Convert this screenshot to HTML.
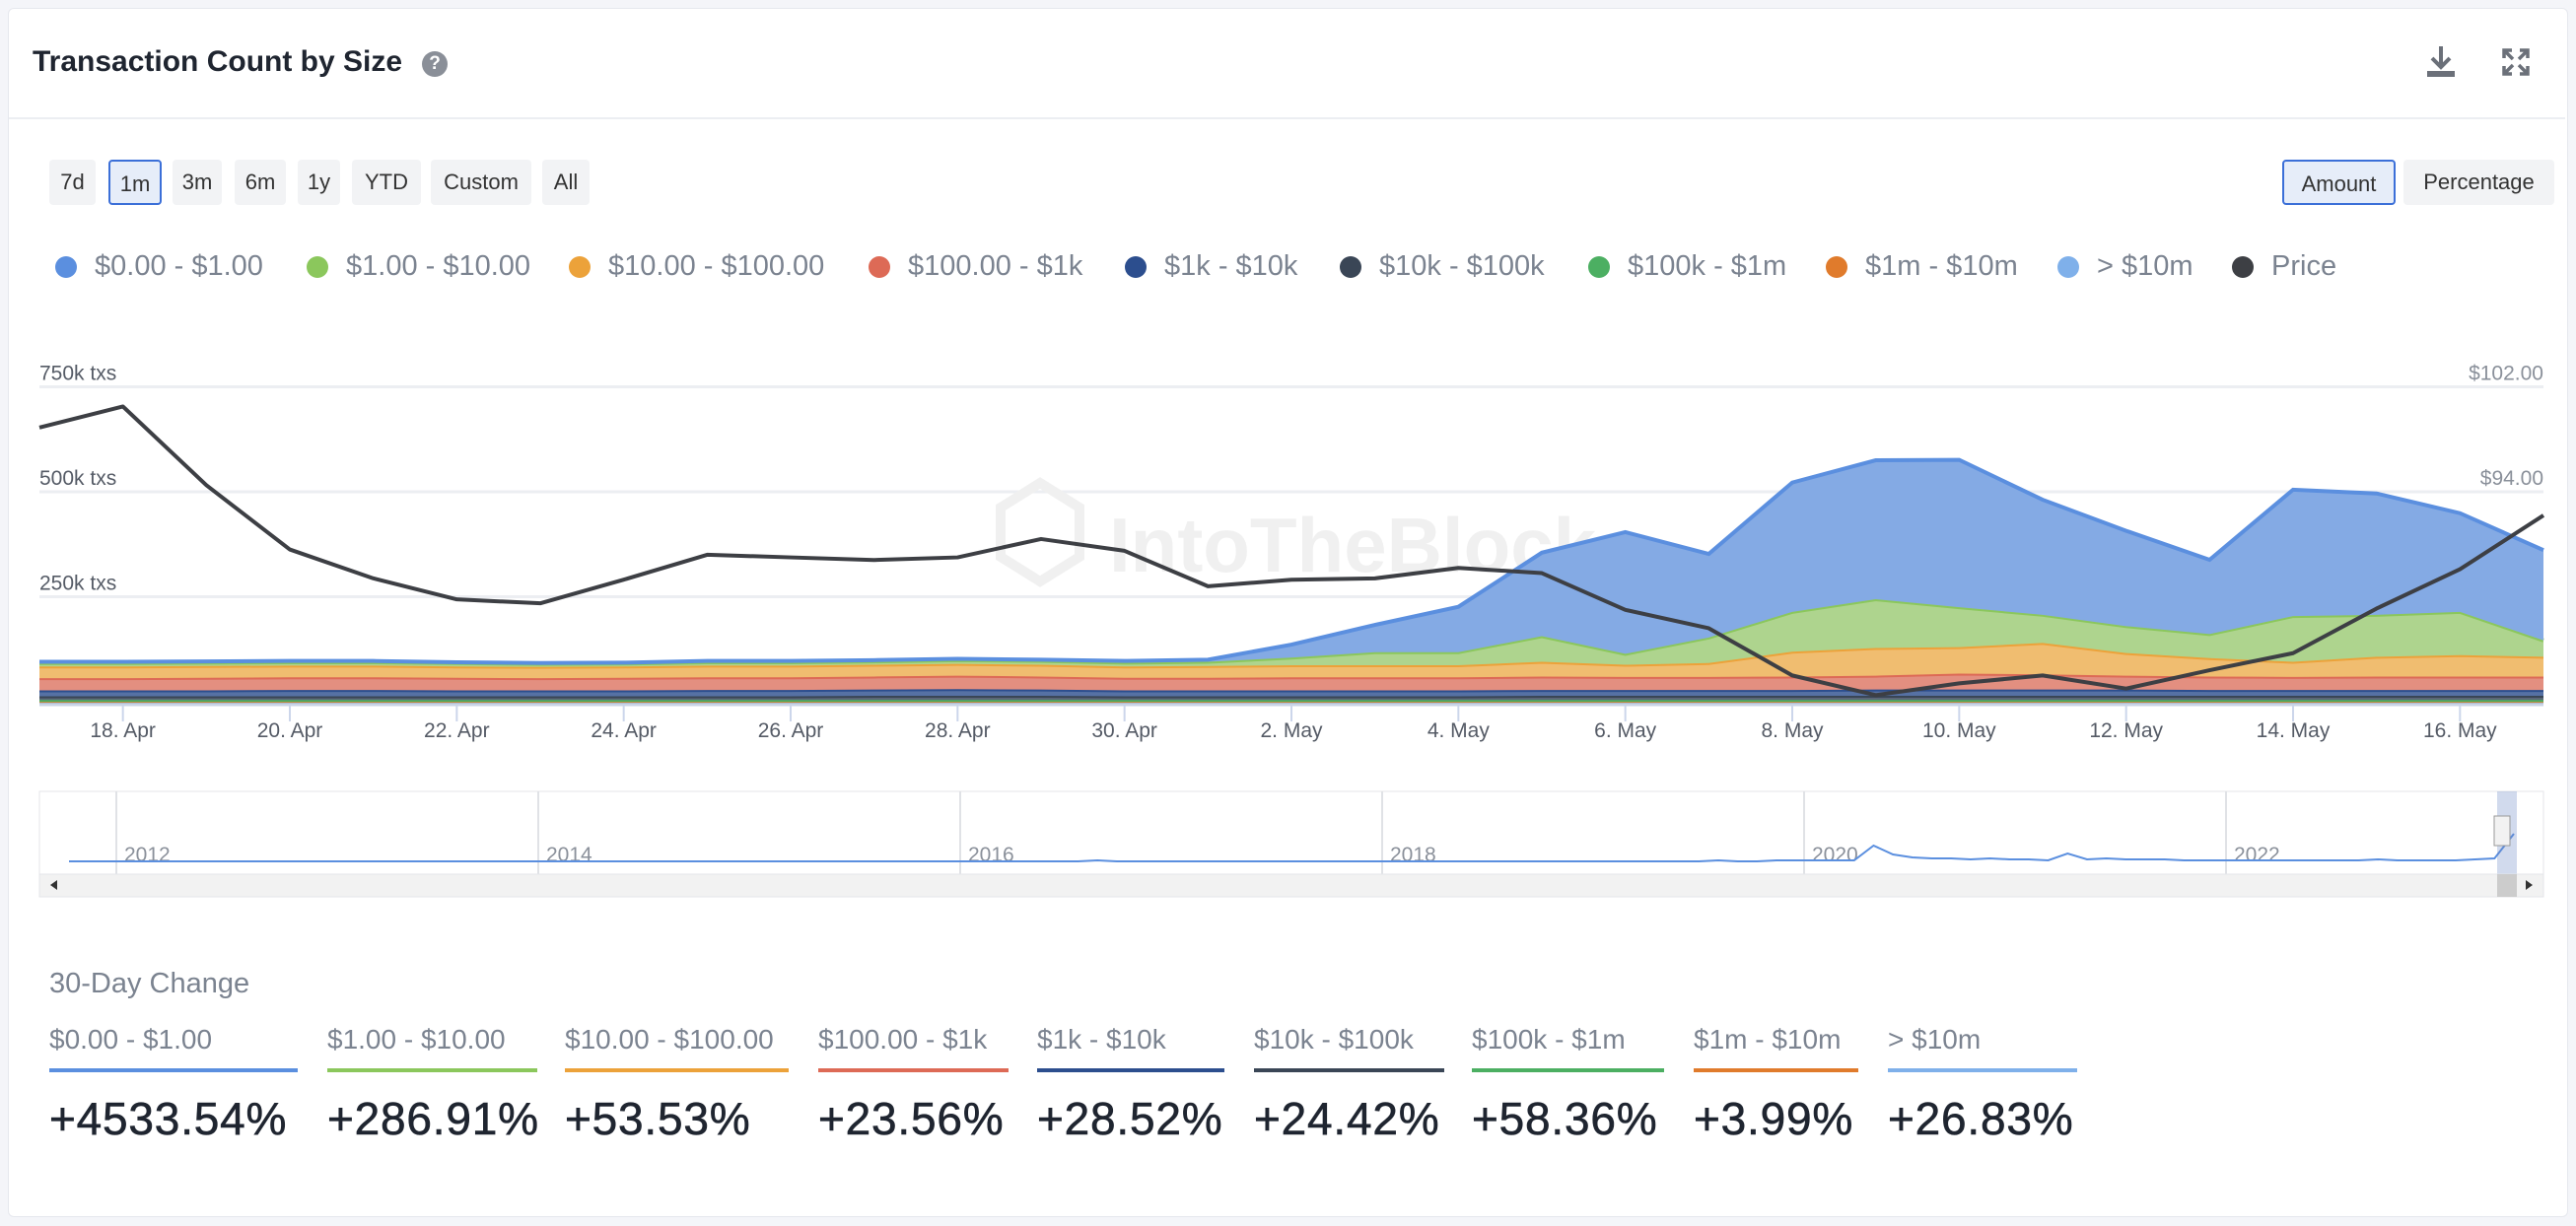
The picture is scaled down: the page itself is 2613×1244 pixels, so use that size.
<!DOCTYPE html>
<html><head><meta charset="utf-8">
<style>
body{margin:0;width:2613px;height:1244px;background:#f4f5f9;font-family:"Liberation Sans",sans-serif;overflow:hidden;position:relative}
.card{position:absolute;left:8px;top:8px;width:2595px;height:1225px;background:#fff;border:1px solid #e6e8ee;border-radius:6px}
.abs{position:absolute}
.btn{position:absolute;top:162px;height:46px;line-height:46px;text-align:center;background:#f2f3f5;border-radius:4px;font-size:22px;color:#333;box-sizing:border-box}
.sel{background:#e6edf9;border:2px solid #3b6fd8}
.leg{position:absolute;top:252px;font-size:29px;color:#7b8390;white-space:nowrap;height:36px;line-height:36px}
.leg i{display:inline-block;width:22px;height:22px;border-radius:50%;vertical-align:-3px;margin-right:18px}
.col{position:absolute;top:1039px}
.col .l{font-size:28px;color:#7b8390;white-space:nowrap}
.col .u{height:4px;margin-top:13px}
.col .v{font-size:46px;color:#1f2530;margin-top:20px;white-space:nowrap;letter-spacing:0.8px;-webkit-text-stroke:0.6px #1f2530}
</style></head><body>
<div class="card"></div>
<div class="abs" style="left:33px;top:46px;font-size:30px;font-weight:bold;color:#1f2530">Transaction Count by Size</div>
<div class="abs" style="left:428px;top:52px;width:26px;height:26px;border-radius:50%;background:#8a8f98;color:#fff;font-size:19px;font-weight:bold;text-align:center;line-height:26px">?</div>
<div class="abs" style="left:2460px;top:45px;width:32px;height:36px">
<svg width="32" height="36"><path d="M16 2v20M7 14l9 9 9-9" stroke="#6b7079" stroke-width="4" fill="none"/><rect x="2" y="27" width="28" height="6" fill="#6b7079"/></svg></div>
<div class="abs" style="left:2537px;top:48px;width:30px;height:30px">
<svg width="30" height="30" stroke="#6b7079" stroke-width="3.5" fill="none"><path d="M3 11V3h8M19 3h8v8M27 19v8h-8M11 27H3v-8M3 3l9 9M27 3l-9 9M27 27l-9-9M3 27l9-9"/></svg></div>
<div class="abs" style="left:9px;top:119px;width:2593px;height:2px;background:#eceef2"></div>

<div class="btn" style="left:50px;width:47px">7d</div>
<div class="btn sel" style="left:110px;width:54px">1m</div>
<div class="btn" style="left:175px;width:50px">3m</div>
<div class="btn" style="left:238px;width:52px">6m</div>
<div class="btn" style="left:302px;width:43px">1y</div>
<div class="btn" style="left:357px;width:70px">YTD</div>
<div class="btn" style="left:437px;width:102px">Custom</div>
<div class="btn" style="left:550px;width:48px">All</div>
<div class="btn sel" style="left:2315px;width:115px">Amount</div>
<div class="btn" style="left:2438px;width:153px">Percentage</div>

<div class="leg" style="left:56px"><i style="background:#5b8fdf"></i>$0.00 - $1.00</div>
<div class="leg" style="left:311px"><i style="background:#8bc75c"></i>$1.00 - $10.00</div>
<div class="leg" style="left:577px"><i style="background:#eca23a"></i>$10.00 - $100.00</div>
<div class="leg" style="left:881px"><i style="background:#dd6a56"></i>$100.00 - $1k</div>
<div class="leg" style="left:1141px"><i style="background:#2c4e8e"></i>$1k - $10k</div>
<div class="leg" style="left:1359px"><i style="background:#3a4656"></i>$10k - $100k</div>
<div class="leg" style="left:1611px"><i style="background:#4caf62"></i>$100k - $1m</div>
<div class="leg" style="left:1852px"><i style="background:#e07b2c"></i>$1m - $10m</div>
<div class="leg" style="left:2087px"><i style="background:#7fb0ea"></i>&gt; $10m</div>
<div class="leg" style="left:2264px"><i style="background:#3d3f44"></i>Price</div>

<svg id="chart" class="abs" style="left:0;top:0" width="2613" height="930"></svg>

<div class="abs" style="left:50px;top:982px;font-size:29px;color:#7b8390">30-Day Change</div>
<div id="cols"></div>

<script>
const dates=['17 Apr','18 Apr','19 Apr','20 Apr','21 Apr','22 Apr','23 Apr','24 Apr','25 Apr','26 Apr','27 Apr','28 Apr','29 Apr','30 Apr','1 May','2 May','3 May','4 May','5 May','6 May','7 May','8 May','9 May','10 May','11 May','12 May','13 May','14 May','15 May','16 May','17 May'];
const sGt10m=[1,1,1,1,1,1,1,1,1,1,1,1,1,1,1,1,1,1,1,1,1,1,1,1,1,1,1,1,1,1,1];
const s1m10m=[1,1,1,1,1,1,1,1,1,1,1,1,1,1,1,1,1,1,1,1,1,1,1,1,1,1,1,1,1,1,1];
const s100k1m=[2,2,2,2,2,2,2,2,2,2,2,2,2,2,2,2,2,2,2,2,2,2,2,2,2,2,2,2,2,2,2];
const s10k100k=[9,9,9,9,9,9,9,9,9,9,10,10,10,9,9,9,9,9,10,10,10,10,10,10,10,10,10,10,10,10,10];
const s1k10k=[14,14,14,15,15,14,14,14,15,15,15,16,15,14,14,14,14,14,14,14,14,14,15,15,15,15,14,14,14,14,14];
const s100to1k=[29,29,30,30,30,30,29,30,30,30,31,32,31,30,30,31,31,31,32,31,31,32,33,38,36,33,32,31,32,32,32];
const s10to100=[28,28,28,28,28,27,27,27,28,28,28,28,28,27,28,29,29,29,35,29,33,59,66,63,75,54,44,36,47,51,47];
const s1to10=[8,8,8,8,8,8,7,7,8,8,8,9,9,9,10,18,31,31,61,26,61,95,116,95,67,64,57,109,100,103,39];
const s0to1=[3,3,3,3,3,2,2,2,3,3,3,3,3,4,5,31,65,108,199,290,199,308,331,351,274,227,177,301,289,235,215];
const price=[98.9,100.5,94.5,89.6,87.4,85.8,85.5,87.3,89.2,89.0,88.8,89.0,90.4,89.5,86.8,87.3,87.4,88.2,87.8,85.0,83.6,80.0,78.5,79.4,80.0,79.0,80.4,81.7,85.1,88.1,92.2];
const leftTicks=[0,250,500,750];
const leftTickLabels=['0 txs','250k txs','500k txs','750k txs'];
const rightTicks=[78,86,94,102];
const xTickIdx=[1,3,5,7,9,11,13,15,17,19,21,23,25,27,29];
const xTickLabels=['18. Apr','20. Apr','22. Apr','24. Apr','26. Apr','28. Apr','30. Apr','2. May','4. May','6. May','8. May','10. May','12. May','14. May','16. May'];
const navYears=['2012','2014','2016','2018','2020','2022'];
const navSeries=[2,2,2,2,2,2,2,2,2,2,2,2,2,2,2,2,2,2,2,2,2,2,2,2,2,2,2,2,2,2,2,2,2,2,2,2,2,2,2,2,2,2,2,2,2,2,2,2,2,2,2,2,2,3,2,2,2,2,2,2,2,2,2,2,2,2,2,2,2,2,2,2,2,2,2,2,2,2,2,2,2,2,2,2,2,3,2,2,3,3,3,3,3,18,9,6,5,5,4,5,4,4,3,10,4,5,4,4,4,3,3,3,3,3,3,3,3,3,3,4,3,3,3,3,4,5,30];
const series=[
 {d:sGt10m,line:'#7fb0ea',fill:'#a8c9f0',n:'gt-10m'},
 {d:s1m10m,line:'#e07b2c',fill:'#ea9e65',n:'1m-10m'},
 {d:s100k1m,line:'#4caf62',fill:'#7fc78f',n:'100k-1m'},
 {d:s10k100k,line:'#3a4656',fill:'#5c6677',n:'10k-100k'},
 {d:s1k10k,line:'#2c4e8e',fill:'#5671a4',n:'1k-10k'},
 {d:s100to1k,line:'#dd6a56',fill:'#e38f80',n:'100-1k'},
 {d:s10to100,line:'#eca23a',fill:'#f0bd70',n:'10-100'},
 {d:s1to10,line:'#8bc75c',fill:'#aed48e',n:'1-10'},
 {d:s0to1,line:'#5b8fdf',fill:'#84aae4',n:'0-1'}];
const X0=40,X1=2580,Y0=712,PER=106.5/250;
const xs=i=>X0+(X1-X0)*i/(dates.length-1);
const yv=v=>Y0-v*PER;
const yp=p=>Y0-(p-78)/8*106.5;
const svg=document.getElementById('chart');const NS='http://www.w3.org/2000/svg';
function mk(t,a){const e=document.createElementNS(NS,t);for(const k in a)e.setAttribute(k,a[k]);svg.appendChild(e);return e;}
leftTicks.forEach((t,i)=>{const y=yv(t);
 const g=mk('line',{x1:X0,x2:X1,y1:y,y2:y,stroke:'#eceef2','stroke-width':3});
 
 
 const tx=mk('text',{x:40,y:y-7,'font-size':21,fill:'#555b66','font-family':'Liberation Sans'});tx.textContent=leftTickLabels[i];
 
 });
rightTicks.forEach(p=>{const tx=mk('text',{x:X1,y:yp(p)-7,'font-size':21,fill:'#8a909a','text-anchor':'end','font-family':'Liberation Sans'});tx.textContent='$'+p.toFixed(2);
 
 });
const wm=mk('text',{x:1125,y:580,'font-size':78,'font-weight':'bold',fill:'#f0f0f0','font-family':'Liberation Sans'});wm.textContent='IntoTheBlock';


mk('path',{d:'M1055 490l40 25v50l-40 25-40-25v-50z',fill:'none',stroke:'#f0f0f0','stroke-width':10});
let cum=dates.map(()=>0);
series.forEach(s=>{const lo=cum.slice();cum=cum.map((c,i)=>c+s.d[i]);
 let top=cum.map((v,i)=>xs(i)+','+yv(v));
 let bot=lo.map((v,i)=>xs(i)+','+yv(v)).reverse();
 const a=mk('polygon',{points:top.concat(bot).join(' '),fill:s.fill});
 
 
 const l=mk('polyline',{points:top.join(' '),fill:'none',stroke:s.line,'stroke-width':4});
 
 });
mk('line',{x1:X0,x2:X1,y1:Y0+3,y2:Y0+3,stroke:'#c9d3e6','stroke-width':3});
const pl=mk('polyline',{points:price.map((p,i)=>xs(i)+','+yp(p)).join(' '),fill:'none',stroke:'#3d3f44','stroke-width':4,'stroke-linejoin':'round'});


xTickIdx.forEach((ix,k)=>{const x=xs(ix);mk('line',{x1:x,x2:x,y1:Y0+4,y2:Y0+20,stroke:'#ccd6eb','stroke-width':2});
 const t=mk('text',{x:x,y:748,'font-size':21,fill:'#555b66','text-anchor':'middle','font-family':'Liberation Sans'});t.textContent=xTickLabels[k];
 
 });
const nav=mk('rect',{x:40,y:803,width:2540,height:84,fill:'#fff',stroke:'#e4e6ea'});


navYears.forEach((y,i)=>{const x=118+i*428;mk('line',{x1:x,x2:x,y1:803,y2:887,stroke:'#e0e2e6','stroke-width':2});
 const t=mk('text',{x:x+8,y:874,'font-size':21,fill:'#8a909a','font-family':'Liberation Sans'});t.textContent=y;
 
 });
const nx=i=>70+(2480*i/(navSeries.length-1));
mk('polyline',{points:navSeries.map((v,i)=>nx(i)+','+(876-v)).join(' '),fill:'none',stroke:'#5b8fdf','stroke-width':2});
mk('rect',{x:2533,y:803,width:20,height:84,fill:'rgba(102,133,194,0.3)'});
const h=mk('rect',{x:2530,y:828,width:16,height:30,fill:'#f2f2f2',stroke:'#999'});


const sb=mk('rect',{x:40,y:887,width:2540,height:23,fill:'#f2f2f2',stroke:'#e4e6ea'});


mk('rect',{x:2533,y:887,width:20,height:23,fill:'#ccc'});
mk('path',{d:'M58 893l-7 5 7 5z',fill:'#333'});mk('path',{d:'M2562 893l7 5-7 5z',fill:'#333'});
const chLabels=['$0.00 - $1.00','$1.00 - $10.00','$10.00 - $100.00','$100.00 - $1k','$1k - $10k','$10k - $100k','$100k - $1m','$1m - $10m','> $10m'];
const chValues=['+4533.54%','+286.91%','+53.53%','+23.56%','+28.52%','+24.42%','+58.36%','+3.99%','+26.83%'];
const chColors=['#5b8fdf','#8bc75c','#eca23a','#dd6a56','#2c4e8e','#3a4656','#4caf62','#e07b2c','#7fb0ea'];
const chLeft=[50,332,573,830,1052,1272,1493,1718,1915];
const chW=[252,213,227,193,190,193,195,167,192];
const cols=document.getElementById('cols');
chLabels.forEach((l,i)=>{const d=document.createElement('div');d.className='col';d.style.left=chLeft[i]+'px';d.style.width=chW[i]+'px';
 
 
 d.innerHTML='<div class="l"></div><div class="u" style="background:'+chColors[i]+'"></div><div class="v"></div>';
 d.querySelector('.l').textContent=l;d.querySelector('.v').textContent=chValues[i];cols.appendChild(d);});
</script>
</body></html>
